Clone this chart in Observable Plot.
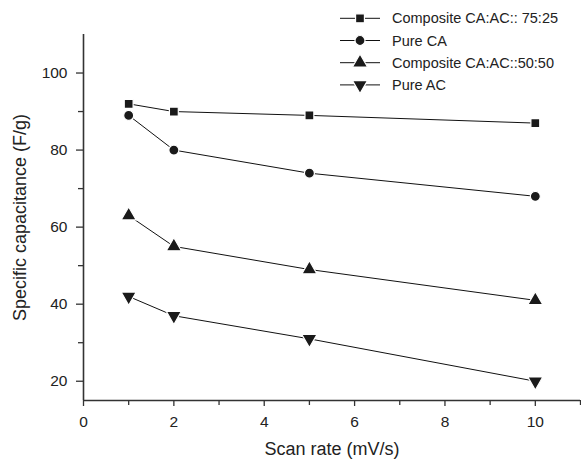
<!DOCTYPE html>
<html>
<head>
<meta charset="utf-8">
<script src="https://cdn.jsdelivr.net/npm/d3@7"></script>
<script src="https://cdn.jsdelivr.net/npm/@observablehq/plot@0.6"></script>
<style>
  body { margin: 0; background: #fff; }
  #wrap { position: relative; width: 581px; height: 459px; font-family: "Liberation Sans", Arial, sans-serif; }
  #legend { position: absolute; left: 0; top: 0; }
</style>
</head>
<body>
<div id="wrap"></div>
<script>
const scanRates = [1, 2, 5, 10];
const seriesNames = ["Composite CA:AC:: 75:25", "Pure CA", "Composite CA:AC::50:50", "Pure AC"];
const comp7525 = [92, 90, 89, 87];
const pureCA = [89, 80, 74, 68];
const comp5050 = [63, 55, 49, 41];
const pureAC = [42, 37, 31, 20];
const xTicks = [0, 2, 4, 6, 8, 10];
const xMinor = [1, 3, 5, 7, 9, 11];
const yTicks = [20, 40, 60, 80, 100];
const yMinor = [30, 50, 70, 90];

const triangleDown = {
  draw(context, size) {
    const y = -Math.sqrt(size / (Math.sqrt(3) * 3));
    context.moveTo(0, -y * 2);
    context.lineTo(-Math.sqrt(3) * y, y);
    context.lineTo(Math.sqrt(3) * y, y);
    context.closePath();
  }
};
const symbols = ["square", "circle", "triangle", triangleDown];
const radii = [5, 5, 5.6, 5.6];
const valuesList = [comp7525, pureCA, comp5050, pureAC];

const data = [];
valuesList.forEach((vals, i) => vals.forEach((v, j) => data.push({series: seriesNames[i], x: scanRates[j], y: v, k: i})));

const axisColor = "#333";
const marks = [
  Plot.ruleX([0], {stroke: axisColor, strokeWidth: 1.6}),
  Plot.ruleY([15], {stroke: axisColor, strokeWidth: 1.6}),
  Plot.axisX(xTicks, {tickSize: 6, tickPadding: 9, fontSize: 15.5, stroke: axisColor, strokeWidth: 1.3, fill: "#222", label: null}),
  Plot.axisX(xMinor, {tickSize: 5, text: null, stroke: axisColor, strokeWidth: 1.3, label: null}),
  Plot.axisY(yTicks, {tickSize: 7, tickPadding: 9, fontSize: 15.5, stroke: axisColor, strokeWidth: 1.3, fill: "#222", label: null}),
  Plot.axisY(yMinor, {tickSize: 5, text: null, stroke: axisColor, strokeWidth: 1.3, label: null}),
  Plot.line(data, {x: "x", y: "y", z: "series", stroke: "#111", strokeWidth: 1}),
];
symbols.forEach((s, i) => {
  marks.push(Plot.dot(data.filter(d => d.k === i), {x: "x", y: "y", symbol: () => s, r: radii[i], fill: "#1a1a1a", stroke: "#fff", strokeWidth: 1.2}));
});
marks.push(Plot.text(["Specific capacitance (F/g)"], {frameAnchor: "left", textAnchor: "middle", lineAnchor: "middle", dx: -63, dy: 0, rotate: -90, fontSize: 18, fill: "#222"}));
marks.push(Plot.text(["Scan rate (mV/s)"], {frameAnchor: "bottom", textAnchor: "middle", lineAnchor: "middle", dy: 49, fontSize: 18, fill: "#222"}));

const chart = Plot.plot({
  width: 581,
  height: 459,
  marginTop: 34,
  marginBottom: 59,
  marginLeft: 83,
  marginRight: 1,
  style: {fontFamily: "Liberation Sans, Arial, sans-serif", background: "#fff"},
  x: {domain: [0, 11]},
  y: {domain: [15, 110]},
  symbol: {type: "identity"},
  marks
});
const wrap = document.getElementById("wrap");
wrap.appendChild(chart);

// legend overlay
const lg = d3.select(wrap).append("svg").attr("id", "legend").attr("width", 581).attr("height", 110);
seriesNames.forEach((name, i) => {
  const cy = 18.3 + i * 22.2;
  const g = lg.append("g").attr("transform", `translate(0,${cy})`);
  g.append("line").attr("x1", 340).attr("x2", 380).attr("stroke", "#111").attr("stroke-width", 1);
  const sym = typeof symbols[i] === "string" ? {square: d3.symbolSquare, circle: d3.symbolCircle, triangle: d3.symbolTriangle}[symbols[i]] : symbols[i];
  g.append("path").attr("transform", "translate(360,0)").attr("d", d3.symbol(sym, Math.PI * radii[i] * radii[i])()).attr("fill", "#1a1a1a").attr("stroke", "#fff").attr("stroke-width", 1.2);
  g.append("text").attr("x", 392).attr("dy", "0.35em").attr("font-size", 14.5).attr("fill", "#222").attr("font-family", "Liberation Sans, Arial, sans-serif").text(name);
});
</script>
</body>
</html>
